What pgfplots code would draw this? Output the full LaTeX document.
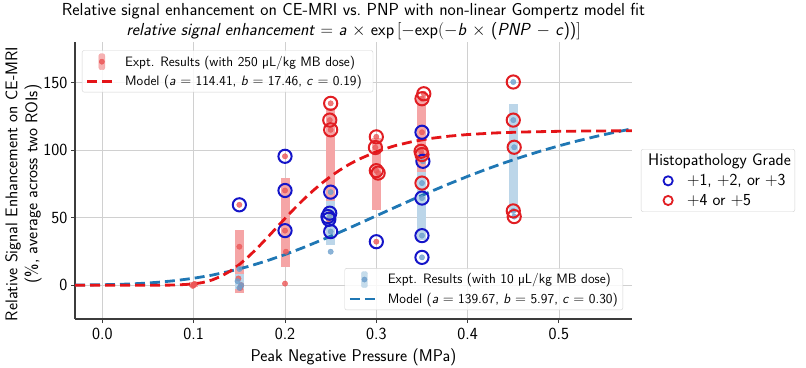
\documentclass[border=0pt]{standalone}
\usepackage{fontspec}
\renewcommand{\familydefault}{\sfdefault}
\usepackage{pgfplots}
\pgfplotsset{compat=1.18}

\definecolor{redbar}{RGB}{245,165,166}
\definecolor{bluebar}{RGB}{188,214,233}
\definecolor{reddot}{RGB}{236,88,88}
\definecolor{bluedot}{RGB}{110,160,205}
\definecolor{gradeblue}{RGB}{20,20,200}
\definecolor{gradered}{RGB}{225,30,35}
\definecolor{modelred}{RGB}{228,20,24}
\definecolor{modelblue}{RGB}{31,119,180}
\definecolor{gridgray}{RGB}{208,208,208}
\definecolor{spine}{RGB}{60,60,60}

\newcommand{\titlefont}{\fontsize{17.4}{20}\selectfont}
\newcommand{\labfont}{\fontsize{17}{20}\selectfont}
\newcommand{\tickfont}{\fontsize{17}{20}\selectfont}
\newcommand{\legfont}{\fontsize{13.6}{15.5}\selectfont}

\pgfplotsset{
  base/.style={scale only axis, width=557pt, height=277pt,
    xmin=-0.03, xmax=0.58, ymin=-25, ymax=180,
    at={(75pt,48pt)}, anchor=south west},
  leg/.style={legend cell align=left,
    legend style={fill=white, fill opacity=0.85, text opacity=1, draw=gray!35,
      rounded corners=2pt, inner xsep=2pt, inner ysep=3pt}},
  bar/.style={line width=9pt, forget plot},
  dot/.style={only marks, mark=*, mark size=2.7pt, forget plot},
  ring/.style={only marks, mark=o, mark size=6.6pt, mark options={line width=2pt}, forget plot},
}

\begin{document}
\begin{tikzpicture}
\useasboundingbox (0,0) rectangle (806pt,367pt);

\begin{axis}[base,
  axis x line*=bottom, axis y line*=left,
  axis line style={spine, line width=1.2pt, -},
  xtick={0,0.1,0.2,0.3,0.4,0.5}, ytick={0,50,100,150},
  grid=major, major grid style={gridgray, line width=0.9pt},
  tick style={spine, line width=1pt}, major tick length=4pt, tick align=outside,
  xticklabel style={/pgf/number format/fixed, /pgf/number format/fixed zerofill, /pgf/number format/precision=1, yshift=-2pt},
  ticklabel style={font=\tickfont},
  /pgf/number format/assume math mode=true,
]
% 250 uL/kg bars (mean +- std)
\addplot[bar, redbar] coordinates {(0.10,-1.5) (0.10,2.5)};
\addplot[bar, redbar] coordinates {(0.15,-6) (0.15,41)};
\addplot[bar, redbar] coordinates {(0.20,13.4) (0.20,79.4)};
\addplot[bar, redbar] coordinates {(0.25,58) (0.25,131)};
\addplot[bar, redbar] coordinates {(0.30,55.5) (0.30,109)};
\addplot[bar, redbar] coordinates {(0.35,82) (0.35,140)};
% 10 uL/kg bars
\addplot[bar, bluebar] coordinates {(0.15,-2.5) (0.15,8.5)};
\addplot[bar, bluebar] coordinates {(0.25,30) (0.25,62)};
\addplot[bar, bluebar] coordinates {(0.35,33.5) (0.35,84)};
\addplot[bar, bluebar] coordinates {(0.45,54) (0.45,134)};
% 250 uL/kg points
\addplot[dot, reddot, fill opacity=0.8, draw opacity=0.8] coordinates {
 (0.100,0) (0.101,1) (0.099,-0.5) (0.100,0.5)
 (0.150,59.5) (0.150,28.5) (0.149,5) (0.152,0) (0.151,-2)
 (0.200,95.4) (0.200,70.1) (0.200,40.4) (0.201,24.8) (0.200,1.2)
 (0.250,134.6) (0.249,122.2) (0.250,115) (0.250,53.3) (0.248,48.8)
 (0.300,109.8) (0.299,101.9) (0.300,84.8) (0.302,83) (0.300,32.2)
 (0.352,141.7) (0.350,138) (0.350,113.2) (0.349,99.1) (0.350,96.7)
};
% 10 uL/kg points
\addplot[dot, bluedot, fill opacity=0.8, draw opacity=0.8] coordinates {
 (0.150,12) (0.148,3) (0.152,0) (0.150,-2)
 (0.250,68.9) (0.249,50.8) (0.250,39.7) (0.250,24.8)
 (0.351,91.7) (0.350,75.6) (0.350,64.5) (0.350,36.7) (0.350,20.6)
 (0.450,150.4) (0.450,122.2) (0.451,102.1) (0.450,55) (0.451,50.8)
};
% histopathology grade rings
\addplot[ring, gradeblue] coordinates {
 (0.150,59.5) (0.200,95.4) (0.200,70.1) (0.200,40.4)
 (0.250,68.9) (0.249,53.3) (0.247,50.8) (0.248,48.8) (0.250,39.7)
 (0.300,32.2) (0.350,113.2) (0.351,91.7) (0.350,64.5) (0.350,36.7) (0.350,20.6)
};
\addplot[ring, gradered] coordinates {
 (0.250,134.6) (0.249,122.2) (0.250,115)
 (0.300,109.8) (0.299,101.9) (0.300,84.8) (0.302,83)
 (0.352,141.7) (0.350,138) (0.349,99.1) (0.350,96.7) (0.350,75.6)
 (0.450,150.4) (0.450,122.2) (0.451,102.1) (0.450,55) (0.451,50.8)
};
% model curves (tabulated)
\addplot[modelblue, line width=2.8pt, dash pattern=on 10pt off 5pt, forget plot] coordinates {
 (-0.03,0.11) (0.00,0.35) (0.02,0.68) (0.04,1.24) (0.06,2.12) (0.08,3.40)
 (0.10,5.15) (0.12,7.46) (0.14,10.38) (0.16,13.91) (0.18,18.03) (0.20,22.70)
 (0.22,27.85) (0.24,33.40) (0.26,39.23) (0.28,45.27) (0.30,51.38) (0.32,57.50)
 (0.34,63.54) (0.36,69.43) (0.38,75.11) (0.40,80.55) (0.42,85.70) (0.44,90.54)
 (0.46,95.06) (0.48,99.28) (0.50,103.16) (0.52,106.74) (0.54,110.02) (0.56,113.01) (0.58,115.75)
};
\addplot[modelred, line width=2.8pt, dash pattern=on 10pt off 5pt, forget plot] coordinates {
 (-0.03,0) (0.00,0) (0.02,0) (0.04,0) (0.06,0.01) (0.08,0.12) (0.10,0.93)
 (0.11,2.01) (0.12,3.84) (0.13,6.61) (0.14,10.45) (0.15,15.33) (0.16,21.15)
 (0.17,27.71) (0.18,34.78) (0.19,42.09) (0.20,49.40) (0.21,56.52) (0.22,63.28)
 (0.23,69.57) (0.24,75.34) (0.25,80.56) (0.26,85.21) (0.27,89.33) (0.28,92.95)
 (0.30,98.82) (0.32,103.18) (0.34,106.37) (0.36,108.68) (0.38,110.34) (0.40,111.52)
 (0.43,112.69) (0.46,113.39) (0.50,113.90) (0.54,114.16) (0.58,114.28)
};
\end{axis}

% legend: 250 uL/kg
\begin{axis}[base, hide axis, leg,
  legend style={at={(0.0125,0.97)}, anchor=north west, font=\legfont, row sep=3.5pt}]
\addlegendimage{legend image code/.code={\path[draw=none] (0pt,0pt) -- (39pt,0pt); \fill[redbar] (14.7pt,-8pt) rectangle (20.7pt,8pt); \fill[reddot] (17.7pt,0pt) circle (2.6pt);}}
\addlegendentry{Expt. Results (with 250 µL/kg MB dose)\hspace*{14pt}}
\addlegendimage{legend image code/.code={\path[draw=none] (0pt,0pt) -- (39pt,0pt); \draw[modelred, line width=2.8pt, dash pattern=on 10pt off 5pt] (3pt,0pt) -- (28pt,0pt);}}
\addlegendentry{Model (\textit{a} $=$ 114.41, \textit{b} $=$ 17.46, \textit{c} $=$ 0.19)}
\end{axis}

% legend: 10 uL/kg
\begin{axis}[base, hide axis, leg,
  legend style={at={(0.984,0.032)}, anchor=south east, font=\legfont, row sep=3.5pt}]
\addlegendimage{legend image code/.code={\path[draw=none] (0pt,0pt) -- (39pt,0pt); \fill[bluebar] (14.7pt,-8pt) rectangle (20.7pt,8pt); \fill[bluedot] (17.7pt,0pt) circle (2.6pt);}}
\addlegendentry{Expt. Results (with 10 µL/kg MB dose)\hspace*{8pt}}
\addlegendimage{legend image code/.code={\path[draw=none] (0pt,0pt) -- (39pt,0pt); \draw[modelblue, line width=2.8pt, dash pattern=on 10pt off 5pt] (3pt,0pt) -- (28pt,0pt);}}
\addlegendentry{Model (\textit{a} $=$ 139.67, \textit{b} $=$ 5.97, \textit{c} $=$ 0.30)}
\end{axis}

% legend: histopathology grade
\begin{axis}[base, hide axis, leg,
  legend style={at={(1.016,0.5)}, anchor=west, font=\fontsize{16.8}{19}\selectfont, row sep=3pt}]
\addlegendimage{legend image code/.code={\path[draw=none] (0pt,0pt) -- (42pt,0pt);}}
\addlegendentry{\hspace*{-39pt}Histopathology Grade}
\addlegendimage{legend image code/.code={\path[draw=none] (0pt,0pt) -- (42pt,0pt); \draw[gradeblue, line width=1.8pt] (25pt,0pt) circle (4.6pt);}}
\addlegendentry{$+$1, $+$2, or $+$3}
\addlegendimage{legend image code/.code={\path[draw=none] (0pt,0pt) -- (42pt,0pt); \draw[gradered, line width=1.8pt] (25pt,0pt) circle (4.6pt);}}
\addlegendentry{$+$4 or $+$5}
\end{axis}

\node[font=\titlefont] at (353.5pt,356pt) {Relative signal enhancement on CE-MRI vs.\ PNP with non-linear Gompertz model fit};
\node[font=\titlefont] at (353.5pt,336pt) {\textit{relative signal enhancement} $=$ \textit{a} $\times$ exp\,$\bigl[-$exp$(-$\textit{b} $\times$ (\textit{PNP} $-$ \textit{c}))$\bigr]$};
\node[font=\fontsize{17}{20}\selectfont, rotate=90, align=center] at (23.5pt,183pt) {Relative Signal Enhancement on CE-MRI\\(\%, average across two ROIs)};
\node[font=\labfont] at (353.5pt,10pt) {Peak Negative Pressure (MPa)};
\end{tikzpicture}
\end{document}
